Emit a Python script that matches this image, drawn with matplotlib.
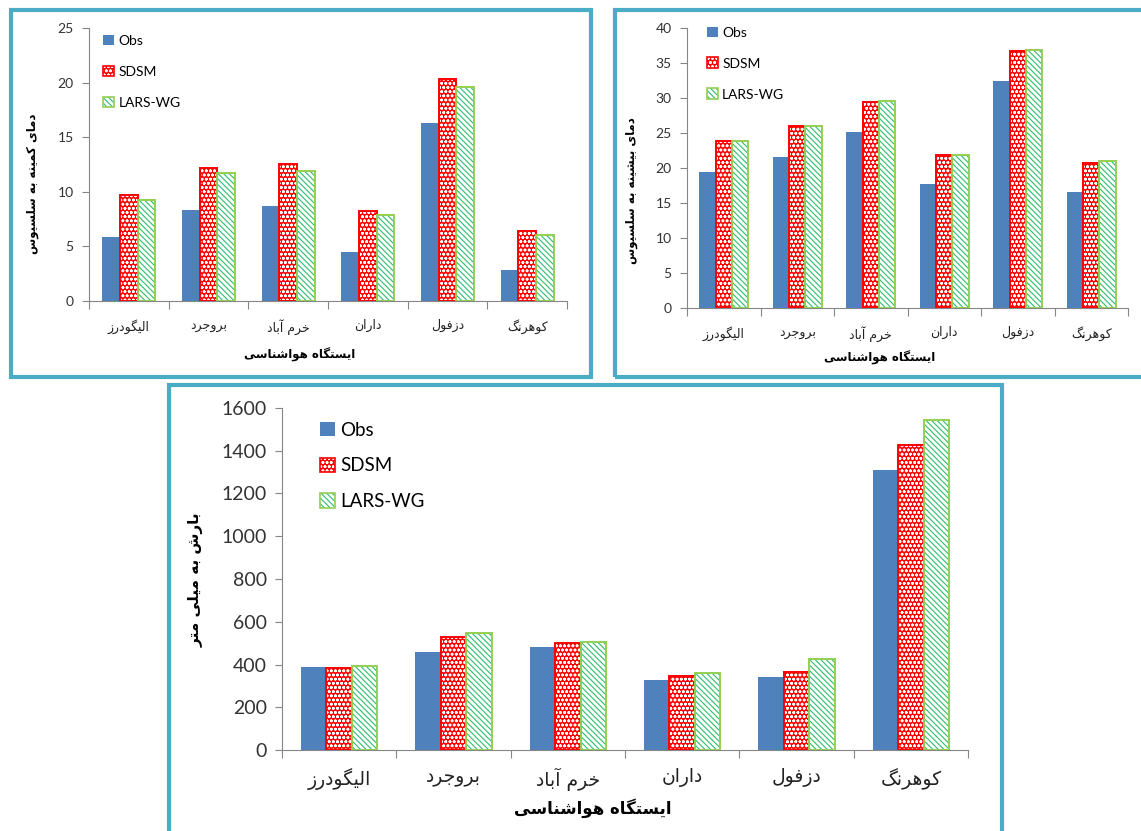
import matplotlib
matplotlib.use("Agg")
import matplotlib.pyplot as plt
from matplotlib.patches import Patch, Rectangle

# Stations and values for the three panels
stations = ["الیگودرز", "بروجرد", "خرم آباد", "داران", "دزفول", "کوهرنگ"]
series_names = ["Obs", "SDSM", "LARS-WG"]

tmin_obs = [5.9, 8.3, 8.7, 4.5, 16.3, 2.8]
tmin_sdsm = [9.7, 12.15, 12.55, 8.2, 20.3, 6.45]
tmin_lars = [9.25, 11.7, 11.95, 7.9, 19.6, 6.05]

tmax_obs = [19.4, 21.6, 25.1, 17.7, 32.5, 16.6]
tmax_sdsm = [23.8, 26.0, 29.5, 21.8, 36.75, 20.75]
tmax_lars = [23.9, 26.05, 29.6, 21.9, 36.85, 20.95]

rain_obs = [390, 460, 480, 326, 343, 1310]
rain_sdsm = [382, 529, 501, 346, 364, 1425]
rain_lars = [393, 546, 504, 359, 426, 1545]

xlabel_fa = "ایستگاه هواشناسی"
ylabel_tmin = "دمای کمینه به سلسیوس"
ylabel_tmax = "دمای بیشینه به سلسیوس"
ylabel_rain = "بارش به میلی متر"

# presentation forms: isolated, final, initial, medial
FORMS = {
    "ا": ("\uFE8D", "\uFE8E", None, None),
    "آ": ("\uFE81", "\uFE82", None, None),
    "د": ("\uFEA9", "\uFEAA", None, None),
    "ر": ("\uFEAD", "\uFEAE", None, None),
    "ز": ("\uFEAF", "\uFEB0", None, None),
    "و": ("\uFEED", "\uFEEE", None, None),
    "ب": ("\uFE8F", "\uFE90", "\uFE91", "\uFE92"),
    "ت": ("\uFE95", "\uFE96", "\uFE97", "\uFE98"),
    "ج": ("\uFE9D", "\uFE9E", "\uFE9F", "\uFEA0"),
    "خ": ("\uFEA5", "\uFEA6", "\uFEA7", "\uFEA8"),
    "س": ("\uFEB1", "\uFEB2", "\uFEB3", "\uFEB4"),
    "ش": ("\uFEB5", "\uFEB6", "\uFEB7", "\uFEB8"),
    "ف": ("\uFED1", "\uFED2", "\uFED3", "\uFED4"),
    "ل": ("\uFEDD", "\uFEDE", "\uFEDF", "\uFEE0"),
    "م": ("\uFEE1", "\uFEE2", "\uFEE3", "\uFEE4"),
    "ن": ("\uFEE5", "\uFEE6", "\uFEE7", "\uFEE8"),
    "ه": ("\uFEE9", "\uFEEA", "\uFEEB", "\uFEEC"),
    "ی": ("\uFBFC", "\uFBFD", "\uFBFE", "\uFBFF"),
    "ک": ("\uFB8E", "\uFB8F", "\uFB90", "\uFB91"),
    "گ": ("\uFB92", "\uFB93", "\uFB94", "\uFB95"),
}


def fa(text):
    # join letters and put them in visual (left-to-right) order
    out = []
    for i, c in enumerate(text):
        if c not in FORMS:
            out.append(c)
            continue
        prev = text[i - 1] if i > 0 else ""
        nxt = text[i + 1] if i + 1 < len(text) else ""
        jp = prev in FORMS and FORMS[prev][2] is not None
        jn = FORMS[c][2] is not None and nxt in FORMS
        iso, fin, ini, med = FORMS[c]
        if jp and jn:
            out.append(med)
        elif jp:
            out.append(fin)
        elif jn:
            out.append(ini)
        else:
            out.append(iso)
    return "".join(out)[::-1]


plt.rcParams["font.family"] = ["Lato", "DejaVu Sans"]
plt.rcParams["hatch.linewidth"] = 0.8

OBS_C = "#4F81BD"
SDSM_C = "#FF0000"
LARS_EDGE = "#92D050"
LARS_HATCH = "#2DBE6C"
SPINE_C = "#868686"
BORDER_C = "#4BACC6"
FA_FONT = ["DejaVu Sans"]
DOTS = "oooo"
DASHES = "\\\\\\\\\\\\"

W, H = 1141, 831
fig = plt.figure(figsize=(W / 100, H / 100), dpi=100)


def px_axes(x0, y0, x1, y1):
    return fig.add_axes([x0 / W, 1 - y1 / H, (x1 - x0) / W, (y1 - y0) / H])


def border(x0, y0, x1, y1):
    fig.patches.append(Rectangle((x0 / W, 1 - y1 / H), (x1 - x0) / W, (y1 - y0) / H,
                                 transform=fig.transFigure, fill=False,
                                 edgecolor=BORDER_C, linewidth=3, zorder=0))


def bar_panel(ax, obs, sdsm, lars, ymax, ystep, tick_fs, cat_fs, leg_fs, leg_pos, leg_space):
    x = range(len(stations))
    w = 0.222
    xo = [i + 0.5 - w for i in x]
    xs = [i + 0.5 for i in x]
    xl = [i + 0.5 + w for i in x]
    ax.bar(xo, obs, w, color=OBS_C, linewidth=0, zorder=2)
    ax.bar(xs, sdsm, w, color=SDSM_C, edgecolor="white", hatch=DOTS, linewidth=0, zorder=2)
    ax.bar(xs, sdsm, w, fill=False, edgecolor=SDSM_C, linewidth=1.4, zorder=3)
    ax.bar(xl, lars, w, color="white", edgecolor=LARS_HATCH, hatch=DASHES, linewidth=0, zorder=2)
    ax.bar(xl, lars, w, fill=False, edgecolor=LARS_EDGE, linewidth=1.4, zorder=3)

    ax.set_xlim(0, len(stations))
    ax.set_ylim(0, ymax)
    ax.set_yticks([v * ystep for v in range(int(ymax / ystep) + 1)])
    ax.set_xticks(range(len(stations) + 1))
    ax.set_xticklabels([])
    ax.set_xticks([i + 0.5 for i in x], minor=True)
    ax.set_xticklabels([fa(s) for s in stations], minor=True, fontsize=cat_fs,
                       family=FA_FONT, color="#222222")
    ax.tick_params(axis="x", which="major", length=6, color=SPINE_C, direction="out")
    ax.tick_params(axis="x", which="minor", length=0, pad=13)
    ax.tick_params(axis="y", length=5, color=SPINE_C, labelsize=tick_fs, labelcolor="#333333", pad=6)
    for s in ["top", "right"]:
        ax.spines[s].set_visible(False)
    for s in ["left", "bottom"]:
        ax.spines[s].set_color(SPINE_C)

    handles = [
        Patch(facecolor=OBS_C, linewidth=0),
        (Patch(facecolor=SDSM_C, edgecolor="white", hatch=DOTS, linewidth=0),
         Patch(fill=False, edgecolor=SDSM_C, linewidth=1.2)),
        (Patch(facecolor="white", edgecolor=LARS_HATCH, hatch=DASHES, linewidth=0),
         Patch(fill=False, edgecolor=LARS_EDGE, linewidth=1.2)),
    ]
    ax.legend(handles, series_names, loc="upper left", bbox_to_anchor=leg_pos,
              frameon=False, fontsize=leg_fs, handlelength=0.8, handleheight=0.8,
              handletextpad=0.3, labelspacing=leg_space, borderaxespad=0, borderpad=0)


# Panel borders
border(11, 10, 591, 377)
border(615, 10, 1160, 377)
border(169, 385, 1002, 850)

# Minimum temperature
ax1 = px_axes(89, 28, 567, 301)
bar_panel(ax1, tmin_obs, tmin_sdsm, tmin_lars, 25, 5, 10, 9, 10, (0.03, 0.975), 1.35)
fig.text(33 / W, 1 - 184 / H, fa(ylabel_tmin), rotation=90, ha="center", va="center",
         fontsize=8.5, fontweight="bold", family=FA_FONT)
fig.text(300 / W, 1 - 355 / H, fa(xlabel_fa), ha="center", va="center",
         fontsize=8.5, fontweight="bold", family=FA_FONT)

# Maximum temperature
ax2 = px_axes(687, 28, 1128, 308)
bar_panel(ax2, tmax_obs, tmax_sdsm, tmax_lars, 40, 5, 10, 9, 10, (0.045, 1.005), 1.35)
fig.text(632 / W, 1 - 191 / H, fa(ylabel_tmax), rotation=90, ha="center", va="center",
         fontsize=8.5, fontweight="bold", family=FA_FONT)
fig.text(880 / W, 1 - 358 / H, fa(xlabel_fa), ha="center", va="center",
         fontsize=8.5, fontweight="bold", family=FA_FONT)

# Precipitation
ax3 = px_axes(282, 408, 968, 750)
bar_panel(ax3, rain_obs, rain_sdsm, rain_lars, 1600, 200, 14, 13.5, 13.5, (0.055, 0.96), 1.0)
fig.text(196 / W, 1 - 580 / H, fa(ylabel_rain), rotation=90, ha="center", va="center",
         fontsize=11, fontweight="bold", family=FA_FONT)
fig.text(593 / W, 1 - 808 / H, fa(xlabel_fa), ha="center", va="center",
         fontsize=12, fontweight="bold", family=FA_FONT)

fig.savefig("out.png", dpi=100)
